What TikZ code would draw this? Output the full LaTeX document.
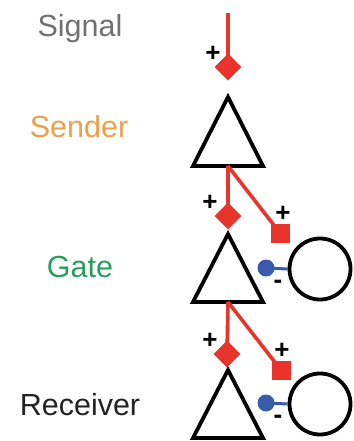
\documentclass[tikz,border=0pt]{standalone}
\usepackage{fontspec}
\setmainfont{Liberation Sans}
\usetikzlibrary{shapes.geometric}
\definecolor{sigred}{HTML}{E8342A}
\definecolor{dotblue}{HTML}{3A5BA9}
\definecolor{sggray}{HTML}{707070}
\definecolor{sdorange}{HTML}{EBA04A}
\definecolor{gtgreen}{HTML}{2A9D5C}
\definecolor{rcblack}{HTML}{222222}
\tikzset{
  lbl/.style={font=\fontsize{30.5}{33}\selectfont, inner sep=0pt, anchor=center},
  tri/.style={draw=black, line width=3.8pt, line join=miter, fill=white},
  sigline/.style={draw=sigred, line width=3.6pt},
  plusdiamond/.style={diamond, fill=sigred, minimum size=27pt, inner sep=0pt},
  plussquare/.style={rectangle, fill=sigred, minimum size=19pt, inner sep=0pt},
  minusdot/.style={circle, fill=dotblue, minimum size=17pt, inner sep=0pt},
  minusline/.style={draw=dotblue, line width=3pt},
  target/.style={circle, draw=black, line width=3.8pt, minimum size=61pt, inner sep=0pt},
  sgn/.style={font=\bfseries\fontsize{26}{26}\selectfont, inner sep=0pt, text=black}
}
\begin{document}
\begin{tikzpicture}[x=1pt,y=-1pt]
\useasboundingbox (0,0) rectangle (353,441);
% labels
\node[lbl, text=sggray] (lsig) at (80,29) {Signal};
\node[lbl, text=sdorange] (lsend) at (79,127) {Sender};
\node[lbl, text=gtgreen] (lgate) at (80,267) {Gate};
\node[lbl, text=rcblack] (lrec) at (80,405) {Receiver};

% signal input
\coordinate (s0) at (228,13);
\node[plusdiamond] (d1) at (228,67) {};
\draw[sigline] (s0) -- (d1.center);
\node[sgn] (p1) at (213,54) {+};

% triangle 1 (Sender)
\coordinate (t1) at (228,97);
\coordinate (b1) at (228,166);
\draw[tri] (t1) -- (193,166) -- (263,166) -- cycle;

% gate outputs
\node[plusdiamond] (d2) at (228,216) {};
\node[plussquare] (q2) at (280,233) {};
\draw[sigline] (b1) -- (d2.center);
\draw[sigline] (b1) -- (q2.center);
\node[sgn] (p2) at (210,203) {+};
\node[sgn] (p3) at (283,214) {+};

% triangle 2 (Gate)
\coordinate (t2) at (228,234);
\coordinate (b2) at (228,302);
\draw[tri] (t2) -- (193,302) -- (263,302) -- cycle;
\node[target] (c2) at (320,269) {};
\node[minusdot] (m2) at (266,268) {};
\draw[minusline] (m2.center) -- (c2.west);
\node[sgn] (n2) at (278,284) {-};

% receiver outputs
\node[plusdiamond] (d3) at (227,354) {};
\node[plussquare] (q3) at (281,370) {};
\draw[sigline] (b2) -- (d3.center);
\draw[sigline] (b2) -- (q3.center);
\node[sgn] (p4) at (210,341) {+};
\node[sgn] (p5) at (282,351) {+};

% triangle 3 (Receiver)
\coordinate (t3) at (228,370);
\coordinate (b3) at (228,438);
\draw[tri] (t3) -- (193,438) -- (263,438) -- cycle;
\node[target] (c3) at (320,404) {};
\node[minusdot] (m3) at (266,403) {};
\draw[minusline] (m3.center) -- (c3.west);
\node[sgn] (n3) at (278,419) {-};
\end{tikzpicture}
\end{document}
